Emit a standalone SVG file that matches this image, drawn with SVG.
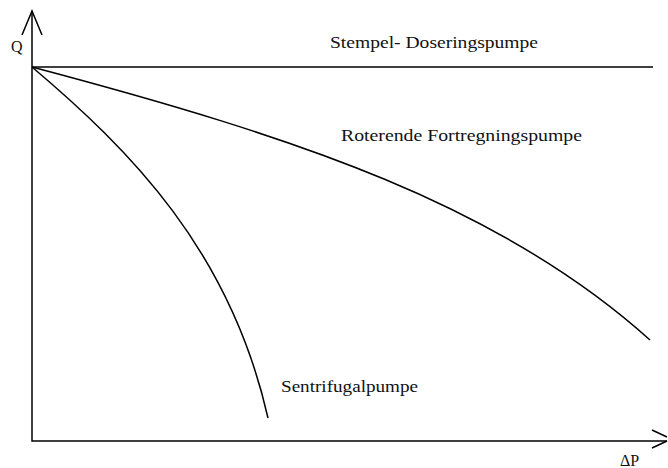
<svg xmlns="http://www.w3.org/2000/svg" width="668" height="468" viewBox="0 0 668 468">
<style>
.ln{fill:none;stroke:#000;stroke-width:1.5}
.t{font-family:"Liberation Serif",serif;font-size:16px;fill:#111}
</style>
<rect width="668" height="468" fill="#fff"/>
<g id="axes">
<path class="ln" d="M32,11 V441 H667"/>
<path class="ln" d="M22,35 L32,11 L42,35"/>
<path class="ln" d="M652,430 L667,437 M652,448 L667,441"/>
<text class="t" x="11" y="52">Q</text>
<text class="t" x="620" y="466">ΔP</text>
</g>
<g id="connectors">
<path class="ln" d="M32,67 H653"/>
<path class="ln" d="M32,67 C300,138 500,205 650,340"/>
<path class="ln" d="M32,67 C130,150 230,250 268,418"/>
</g>
<g id="labels">
<text class="t" x="330" y="48" textLength="208" lengthAdjust="spacingAndGlyphs">Stempel- Doseringspumpe</text>
<text class="t" x="341" y="141" textLength="241" lengthAdjust="spacingAndGlyphs">Roterende Fortregningspumpe</text>
<text class="t" x="281" y="392" textLength="137" lengthAdjust="spacingAndGlyphs">Sentrifugalpumpe</text>
</g>
</svg>
